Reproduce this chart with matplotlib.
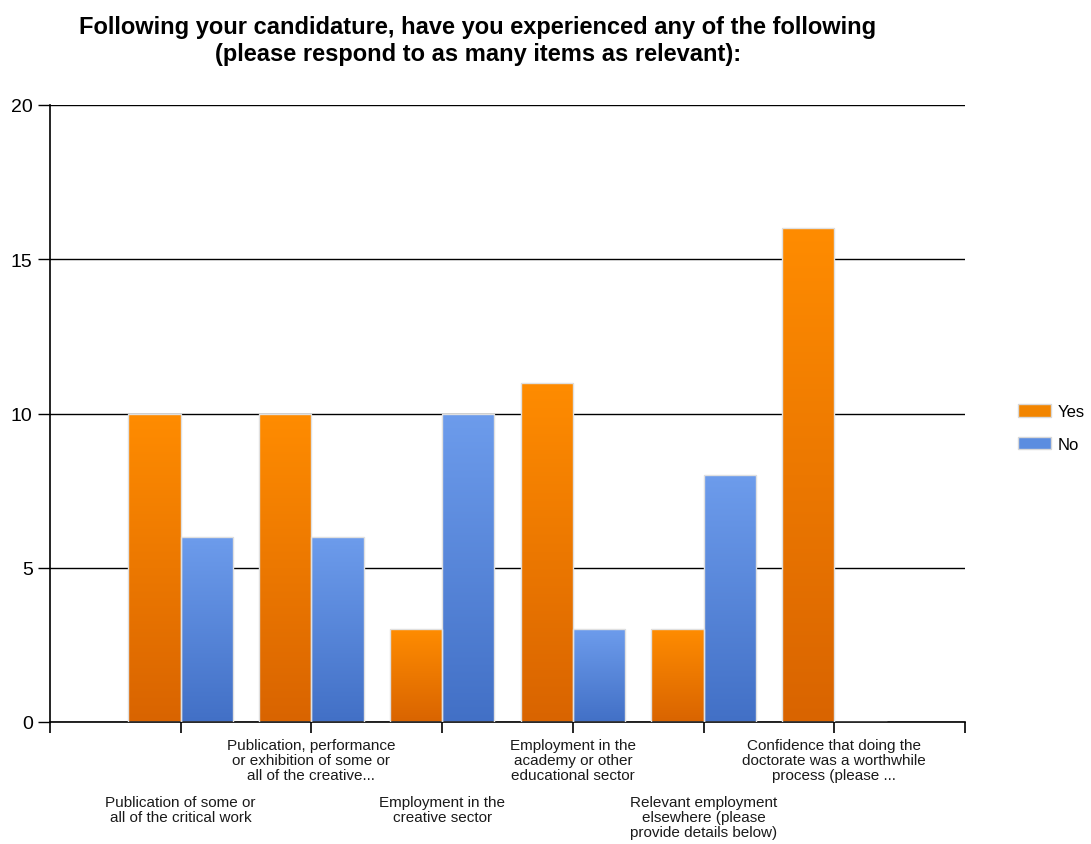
import numpy as np
import matplotlib
matplotlib.use("Agg")
import matplotlib.pyplot as plt
import matplotlib.colors as mcolors
import matplotlib.transforms as mtransforms

plt.rcParams["font.family"] = ["Liberation Sans", "DejaVu Sans"]

# data
categories = [
    "Publication of some or\nall of the critical work",
    "Publication, performance\nor exhibition of some or\nall of the creative...",
    "Employment in the\ncreative sector",
    "Employment in the\nacademy or other\neducational sector",
    "Relevant employment\nelsewhere (please\nprovide details below)",
    "Confidence that doing the\ndoctorate was a worthwhile\nprocess (please ...",
]
yes_values = [10, 10, 3, 11, 3, 16]
no_values = [6, 6, 10, 3, 8, 0]
series_names = ["Yes", "No"]

# top / bottom colours for the gradient fill
orange_grad = ("#ff8c00", "#d96400")
blue_grad = ("#6d9cec", "#4270c6")


def gradient_fill(ax, bars, top_col, bottom_col):
    cmap = mcolors.LinearSegmentedColormap.from_list("g", [bottom_col, top_col])
    grad = np.linspace(0, 1, 256).reshape(-1, 1)
    for b in bars:
        h = b.get_height()
        if h <= 0:
            continue
        x0 = b.get_x()
        w = b.get_width()
        im = ax.imshow(grad, cmap=cmap, aspect="auto", origin="lower",
                       extent=(x0, x0 + w, 0, h), zorder=2)
        im.set_clip_path(b)


fig = plt.figure(figsize=(10.91, 8.45), dpi=100)
ax = fig.add_axes([50 / 1091, 1 - 723 / 845, 915 / 1091, 617 / 845])

x = np.arange(1, len(categories) + 1)
w = 0.4
bars_yes = ax.bar(x - w / 2, yes_values, w, color="none", edgecolor="#e0e0e0",
                  linewidth=1, zorder=3, label=series_names[0])
bars_no = ax.bar(x + w / 2, no_values, w, color="none", edgecolor="#e0e0e0",
                 linewidth=1, zorder=3, label=series_names[1])
gradient_fill(ax, bars_yes, *orange_grad)
gradient_fill(ax, bars_no, *blue_grad)

ax.set_xlim(0, 7)
ax.set_ylim(0, 20)
ax.set_yticks([0, 5, 10, 15, 20])
ax.set_xticks(np.arange(0, 8))
ax.set_xticklabels([])
ax.yaxis.grid(True, color="black", linewidth=1)
ax.set_axisbelow(True)
for s in ["top", "right"]:
    ax.spines[s].set_visible(False)
for s in ["left", "bottom"]:
    ax.spines[s].set_linewidth(1.2)
ax.tick_params(axis="y", length=9, width=1, labelsize=14, colors="black")
ax.tick_params(axis="x", length=8, width=1.2)

# staggered category labels
trans = mtransforms.blended_transform_factory(ax.transData, ax.transAxes)
for i, lab in enumerate(categories):
    off = -16 if i % 2 == 1 else -73
    ax.annotate(lab, xy=(x[i], 0), xycoords=trans, xytext=(0, off),
                textcoords="offset pixels", ha="center", va="top",
                fontsize=11, color="#1a1a1a", linespacing=1.1)

# legend swatches
leg = fig.legend(handles=[
    plt.Rectangle((0, 0), 1, 1, facecolor="#f28500", edgecolor="#d8d8d8"),
    plt.Rectangle((0, 0), 1, 1, facecolor="#5b8de0", edgecolor="#d8d8d8")],
    labels=series_names, loc="center left",
    bbox_to_anchor=(1008 / 1091, 1 - 429 / 845), frameon=False,
    fontsize=12, handlelength=2.0, handleheight=0.75, labelspacing=1.05,
    handletextpad=0.35, borderaxespad=0.2)

fig.text(478 / 1091, 1 - 41 / 845,
         "Following your candidature, have you experienced any of the following\n"
         "(please respond to as many items as relevant):",
         ha="center", va="center", fontsize=17, fontweight="bold",
         linespacing=1.25)

fig.savefig("out.png", dpi=100)
